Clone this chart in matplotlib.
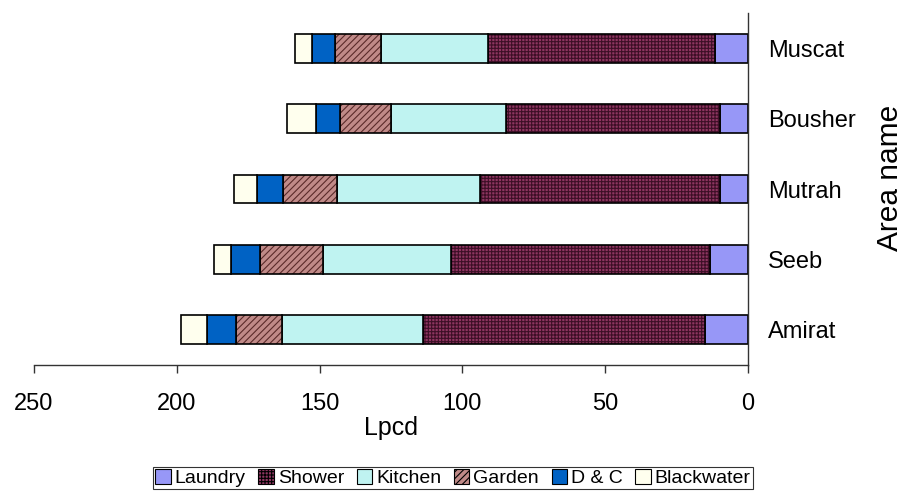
import matplotlib
matplotlib.use("Agg")
import matplotlib.pyplot as plt
from matplotlib.patches import Patch

plt.rcParams['font.family'] = ['Liberation Sans', 'DejaVu Sans']
plt.rcParams['hatch.linewidth'] = 0.8

# ---------------- Data (bottom to top) ----------------
areas = ['Amirat', 'Seeb', 'Mutrah', 'Bousher', 'Muscat']
laundry = [15.0, 13.2, 9.9, 9.9, 11.7]
shower = [98.8, 90.9, 84.1, 74.7, 79.3]
kitchen = [49.3, 44.6, 49.9, 40.5, 37.5]
garden = [16.1, 22.1, 19.0, 17.9, 16.1]
dc = [10.2, 10.2, 9.0, 8.2, 8.1]
blackwater = [9.0, 5.9, 8.2, 10.2, 6.0]

series = [
    ('Laundry', laundry, '#9797F7', None, '#9797F7'),
    ('Shower', shower, '#8E3560', '+++++', '#3d0f26'),
    ('Kitchen', kitchen, '#BFF3F1', None, '#BFF3F1'),
    ('Garden', garden, '#C08A88', '/////', '#5a2a2a'),
    ('D & C', dc, '#0062C4', None, '#0062C4'),
    ('Blackwater', blackwater, '#FFFFEE', None, '#FFFFEE'),
]

# ---------------- Plotting ----------------
fig = plt.figure(figsize=(9.12, 4.93), dpi=100)
ax = fig.add_axes([34 / 912, 1 - 365 / 493, (748 - 34) / 912, (365 - 13) / 493])

y = list(range(len(areas)))
left = [0] * len(areas)
handles = []
for name, vals, face, hatch, hcol in series:
    ax.barh(y, vals, left=left, height=0.41, color=face, hatch=hatch,
            edgecolor=hcol, linewidth=0)
    ax.barh(y, vals, left=left, height=0.41, fill=False,
            edgecolor='black', linewidth=1.2)
    handles.append(Patch(facecolor=face, hatch=hatch, edgecolor=hcol, label=name))
    left = [l + v for l, v in zip(left, vals)]

ax.set_xlim(250, 0)
ax.set_ylim(-0.5, 4.5)
ax.set_xticks([250, 200, 150, 100, 50, 0])
ax.tick_params(axis='x', direction='out', length=6, width=1, labelsize=17,
               pad=14, color='#333333')
ax.yaxis.tick_right()
ax.set_yticks(y)
ax.set_yticklabels(areas)
ax.tick_params(axis='y', length=0, labelsize=17, pad=14.5)

for s in ['top', 'left']:
    ax.spines[s].set_visible(False)
for s in ['bottom', 'right']:
    ax.spines[s].set_color('#333333')
    ax.spines[s].set_linewidth(1)

ax.set_xlabel('Lpcd', fontsize=18, labelpad=1)
fig.text(890 / 912, 1 - 178 / 493, 'Area name', rotation=90, fontsize=21.5,
         ha='center', va='center')

leg = fig.legend(handles=handles, loc='center', ncol=6,
                 bbox_to_anchor=(453 / 912, 1 - 478 / 493), fontsize=14,
                 frameon=True, fancybox=False, edgecolor='black',
                 handlelength=0.8, handleheight=0.8, handletextpad=0.2,
                 columnspacing=0.65, borderpad=0.1, borderaxespad=0)
leg.get_frame().set_linewidth(0.8)
for p in leg.get_patches():
    p.set_linewidth(0.8)
    p.set_edgecolor('black')

fig.savefig('out.png', dpi=100)
